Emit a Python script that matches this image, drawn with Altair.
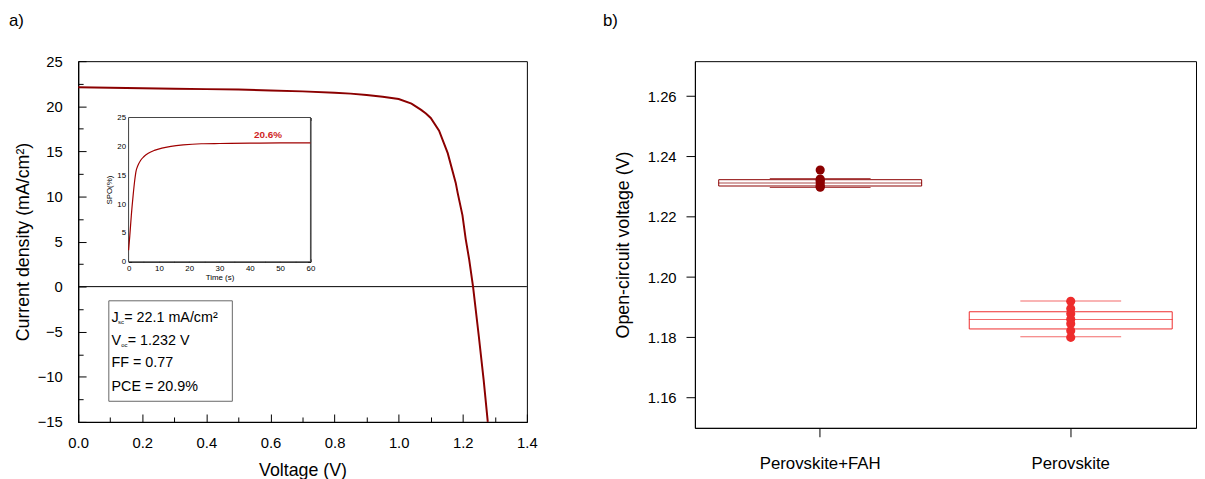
import altair as alt
import pandas as pd

FONT = "Liberation Sans"

# ---------- panel a : J-V curve ----------
voltage = [0.0, 0.1, 0.2, 0.3, 0.4, 0.5, 0.6, 0.7, 0.8, 0.85, 0.9, 0.95, 1.0,
           1.04, 1.07, 1.085, 1.10, 1.126, 1.153, 1.178, 1.184, 1.199, 1.209,
           1.22, 1.232, 1.25, 1.265, 1.278]
current = [22.1, 22.05, 22.0, 21.95, 21.9, 21.85, 21.75, 21.65, 21.5, 21.4, 21.25,
           21.05, 20.8, 20.3, 19.6, 19.2, 18.7, 17.3, 14.8, 11.5, 10.4, 7.9, 5.3,
           3.0, 0.0, -5.5, -10.3, -15.0]

# inset : stabilised power output
time_s = [0, 0.4, 0.9, 1.5, 2.0, 2.5, 3.0, 4.0, 5.0, 6.5, 8.5, 11, 14, 18, 24, 30, 40, 50, 60]
spo = [2.0, 4.5, 8.0, 11.5, 14.0, 15.8, 16.6, 17.6, 18.2, 18.8, 19.3, 19.7, 20.0,
       20.25, 20.45, 20.5, 20.55, 20.6, 20.6]

legend_lead = ["J", "V", "FF = 0.77", "PCE = 20.9%"]
legend_sub = ["sc", "oc", "", ""]
legend_rest = ["= 22.1 mA/cm\u00b2", "= 1.232 V", "", ""]

# ---------- panel b : Voc box plots ----------
groups = ["Perovskite+FAH", "Perovskite"]
box_q1 = [1.2302, 1.1828]
box_q3 = [1.2323, 1.1885]
box_med = [1.2312, 1.1859]
box_lo = [1.2297, 1.1802]
box_hi = [1.2327, 1.1921]
fah_voc = [1.2355, 1.2325, 1.2300, 1.2298, 1.2315, 1.2306, 1.2320]
fah_jit = [0, -8, -8, 0, 0, 8, -4]
pero_voc = [1.1920, 1.1895, 1.1878, 1.1860, 1.1845, 1.1822, 1.1800]
pero_jit = [0, 0, 0, 0, 0, 0, 0]
colors = ["#8B0000", "#EE2C2C"]

# ======================= panel a =======================
jv = pd.DataFrame({"V": voltage, "J": current})
xa = alt.Scale(domain=[0, 1.4], nice=False, zero=False)
ya = alt.Scale(domain=[-15, 25], nice=False, zero=False)
xa_major = [round(i * 0.2, 1) for i in range(8)]
xa_minor = [round(0.1 + i * 0.2, 1) for i in range(7)]
ya_major = [-15 + 5 * i for i in range(9)]
ya_minor = [-12.5 + 5 * i for i in range(8)]

ax_x = alt.Axis(values=xa_major, title="Voltage (V)", labelFlush=False, format=".1f",
                orient="bottom", tickSize={"expr": "-8"}, labelPadding=22, labelFontSize=15,
                titleFontSize=18, titlePadding=11, grid=False)
ax_y = alt.Axis(values=ya_major, title="Current density (mA/cm\u00b2)", labelFlush=False,
                format="d", orient="left", tickSize={"expr": "-8"}, labelPadding=24,
                labelFontSize=15, titleFontSize=18, titlePadding=5, grid=False)
ax_x_minor = alt.Axis(values=xa_minor, title=None, labels=False, orient="bottom",
                      tickSize={"expr": "-5"}, grid=False)
ax_y_minor = alt.Axis(values=ya_minor, title=None, labels=False, orient="left",
                      tickSize={"expr": "-5"}, grid=False)

jv_line = alt.Chart(jv).mark_line(color="#8B0000", strokeWidth=2, clip=True).encode(
    x=alt.X("V:Q", scale=xa, axis=ax_x),
    y=alt.Y("J:Q", scale=ya, axis=ax_y),
)
zero = alt.Chart(pd.DataFrame({"J": [0]})).mark_rule(color="black", strokeWidth=1).encode(
    y=alt.Y("J:Q", scale=ya, axis=None)
)
box_df = pd.DataFrame({"x": [0.0956], "x2": [0.481], "y": [-1.57], "y2": [-12.71]})
leg_box = alt.Chart(box_df).mark_rect(fill="white", stroke="#666", strokeWidth=1).encode(
    x=alt.X("x:Q", scale=xa, axis=ax_x_minor), x2="x2",
    y=alt.Y("y:Q", scale=ya, axis=ax_y_minor), y2="y2"
)
leg_df = pd.DataFrame({
    "lead": legend_lead, "sub": legend_sub, "rest": legend_rest,
    "y": [-3.5, -6.0, -8.45, -11.1],
    "x": [0.104] * 4,
    "xs": [0.1245, 0.1345, 0, 0],
    "xr": [0.1435, 0.1545, 0, 0],
})
leg_lead = alt.Chart(leg_df).mark_text(align="left", baseline="middle", fontSize=14.5, font=FONT,
                                       color="black").encode(
    x=alt.X("x:Q", scale=xa, axis=None), y=alt.Y("y:Q", scale=ya, axis=None), text="lead:N")
leg_sub = alt.Chart(leg_df).transform_filter("datum.sub != ''").mark_text(
    align="left", baseline="middle", fontSize=6, font=FONT, dy=4, color="black").encode(
    x=alt.X("xs:Q", scale=xa, axis=None), y=alt.Y("y:Q", scale=ya, axis=None), text="sub:N")
leg_rest = alt.Chart(leg_df).transform_filter("datum.rest != ''").mark_text(
    align="left", baseline="middle", fontSize=14.5, font=FONT, color="black").encode(
    x=alt.X("xr:Q", scale=xa, axis=None), y=alt.Y("y:Q", scale=ya, axis=None), text="rest:N")

main_layer = alt.layer(zero, jv_line, leg_box, leg_lead, leg_sub, leg_rest).resolve_axis(
    x="independent", y="independent")

# inset
W_A, H_A = 454, 365
xi = alt.Scale(domain=[0, 60], nice=False, zero=False, range=[51, 235])
yi = alt.Scale(domain=[0, 25], nice=False, zero=False, range=[203, 57])
ins = pd.DataFrame({"t": time_s, "s": spo})
ax_xi = alt.Axis(values=list(range(0, 61, 5)), title="Time (s)", orient="bottom",
                 offset=203 - H_A, labelFlush=False,
                 labelExpr="datum.value % 10 == 0 ? format(datum.value, 'd') : ''",
                 tickSize={"expr": "-3"}, labelPadding=6, labelFontSize=8,
                 titleFontSize=8, titlePadding=1, grid=False, titleFontWeight="normal")
ax_yi = alt.Axis(values=[2.5 * i for i in range(11)], title="SPO(%)", orient="left",
                 offset=-51, labelFlush=False,
                 labelExpr="datum.value % 5 == 0 ? format(datum.value, 'd') : ''",
                 tickSize={"expr": "-3"}, labelPadding=6, labelFontSize=8,
                 titleFontSize=8, titlePadding=3, grid=False, titleFontWeight="normal")
ax_xi_top = alt.Axis(values=list(range(0, 61, 5)), title=None, labels=False, orient="top",
                     offset=-57, tickSize={"expr": "-3"}, grid=False)
ax_yi_right = alt.Axis(values=[2.5 * i for i in range(11)], title=None, labels=False,
                       orient="right", offset=235 - W_A, tickSize={"expr": "-3"}, grid=False)
ins_frame = alt.Chart(pd.DataFrame({"t": [0], "t2": [60], "s": [0], "s2": [25]})).mark_rect(
    fill="white", stroke="#444", strokeWidth=1).encode(
    x=alt.X("t:Q", scale=xi, axis=ax_xi), x2="t2", y=alt.Y("s:Q", scale=yi, axis=ax_yi), y2="s2")
ins_line = alt.Chart(ins).mark_line(color="#A00000", strokeWidth=1.2, interpolate="monotone").encode(
    x=alt.X("t:Q", scale=xi, axis=ax_xi_top), y=alt.Y("s:Q", scale=yi, axis=ax_yi_right))
ins_label = alt.Chart(pd.DataFrame({"t": [46], "s": [21.9], "lab": ["20.6%"]})).mark_text(
    fontSize=10, fontWeight="bold", color="#D01F1F", font=FONT, baseline="middle").encode(
    x=alt.X("t:Q", scale=xi, axis=None), y=alt.Y("s:Q", scale=yi, axis=None), text="lab:N")
inset_layer = alt.layer(ins_frame, ins_line, ins_label).resolve_axis(
    x="independent", y="independent")

tag_a = alt.Chart(pd.DataFrame({"t": ["a)"]})).mark_text(
    align="left", baseline="top", fontSize=17, font=FONT, color="black").encode(
    x=alt.value(-70), y=alt.value(-49), text="t:N")

panel_a = alt.layer(main_layer, inset_layer, tag_a).resolve_scale(
    x="independent", y="independent").properties(width=W_A, height=H_A)

# ======================= panel b =======================
stats = pd.DataFrame({"g": groups, "q1": box_q1, "q3": box_q3, "med": box_med,
                      "lo": box_lo, "hi": box_hi})
pts = pd.DataFrame({
    "g": [groups[0]] * len(fah_voc) + [groups[1]] * len(pero_voc),
    "v": fah_voc + pero_voc,
    "j": fah_jit + pero_jit,
})
xb = alt.X("g:N", sort=groups, scale=alt.Scale(domain=groups, paddingInner=0, paddingOuter=0),
           axis=alt.Axis(title=None, labelAngle=0, tickSize=9, labelPadding=19,
                         labelFontSize=17, grid=False))
yb_scale = alt.Scale(domain=[1.15, 1.2716], nice=False, zero=False)
yb_axis = alt.Axis(values=[1.16, 1.18, 1.20, 1.22, 1.24, 1.26], format=".2f",
                   title="Open-circuit voltage (V)", tickSize=9, labelPadding=10,
                   labelFontSize=15, titleFontSize=18, titlePadding=15, grid=False)
col = alt.Color("g:N", scale=alt.Scale(domain=groups, range=colors), legend=None)

boxes = alt.Chart(stats).mark_bar(width={"band": 0.81}, fillOpacity=0, strokeWidth=1).encode(
    x=xb, y=alt.Y("q1:Q", scale=yb_scale, axis=yb_axis), y2="q3",
    stroke=alt.Stroke("g:N", scale=alt.Scale(domain=groups, range=colors), legend=None))
meds = alt.Chart(stats).mark_tick(size=206, thickness=1).encode(
    x=xb, y=alt.Y("med:Q", scale=yb_scale), color=col)
caps_hi = alt.Chart(stats).mark_tick(size=102, thickness=1).encode(
    x=xb, y=alt.Y("hi:Q", scale=yb_scale), color=col)
caps_lo = alt.Chart(stats).mark_tick(size=102, thickness=1).encode(
    x=xb, y=alt.Y("lo:Q", scale=yb_scale), color=col)

dot_layers = []
for jv_off in sorted(set(fah_jit + pero_jit)):
    dot_layers.append(
        alt.Chart(pts).transform_filter(f"datum.j == {jv_off}").mark_circle(
            size=85, opacity=1, dx=jv_off).encode(
            x=xb, y=alt.Y("v:Q", scale=yb_scale), color=col)
    )

tag_b = alt.Chart(pd.DataFrame({"t": ["b)"]})).mark_text(
    align="left", baseline="top", fontSize=17, font=FONT, color="black").encode(
    x=alt.value(-93), y=alt.value(-49), text="t:N")

panel_b = alt.layer(boxes, meds, caps_hi, caps_lo, *dot_layers, tag_b).properties(
    width=507, height=371)

chart = alt.hconcat(panel_a, panel_b, spacing=65).configure(
    padding=0, font=FONT
).configure_view(stroke="black", strokeWidth=1).configure_axis(
    domainColor="black", tickColor="black", labelColor="black", titleColor="black",
    labelFont=FONT, titleFont=FONT, titleFontWeight="normal"
)

chart.save("out.html", embed_options={"renderer": "svg", "actions": False})
